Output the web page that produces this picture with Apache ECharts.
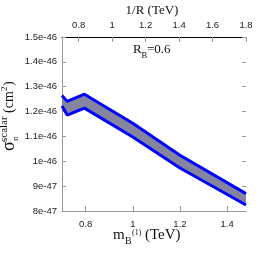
<!DOCTYPE html>
<html><head><meta charset="utf-8">
<script src="https://cdn.jsdelivr.net/npm/echarts@6/dist/echarts.min.js"></script>
<style>html,body{margin:0;padding:0;background:#fff}#c{width:262px;height:262px}</style>
</head><body><div id="c"></div>
<script>
// bottom axis: m_B(1) in TeV ; top axis: 1/R in TeV ; y: sigma in units of 1e-46 cm^2
const massTicks = [0.8, 1.0, 1.2, 1.4];
const invRTicks = [0.8, 1.0, 1.2, 1.4, 1.6, 1.8];
const sigmaTicks = [0.8, 0.9, 1.0, 1.1, 1.2, 1.3, 1.4, 1.5];
const sigmaTickLabels = ['8e-47', '9e-47', '1e-46', '1.1e-46', '1.2e-46', '1.3e-46', '1.4e-46', '1.5e-46'];
const massValues = [0.70, 0.722, 0.795, 1.0, 1.2, 1.48];
const sigmaUpper = [1.265, 1.241, 1.270, 1.153, 1.024, 0.870];
const sigmaLower = [1.222, 1.186, 1.214, 1.098, 0.973, 0.824];

const chart = echarts.init(document.getElementById('c'), null, {renderer: 'canvas'});
const sans = 'Liberation Sans, Arial, sans-serif';
const serif = 'Liberation Serif, Times New Roman, serif';
const fmtNum = v => String(Math.round(v * 10) / 10);
const upperData = massValues.map((m, i) => [m, sigmaUpper[i]]);
const lowerData = massValues.map((m, i) => [m, sigmaLower[i]]);

const T = (text, x, y, size, extra) => Object.assign({
  type: 'text', x: x, y: y, silent: true,
  style: Object.assign({text: text, font: size + 'px ' + serif, fill: '#111', align: 'left', verticalAlign: 'middle'}, extra || {})
});
const R = (text, x, y, size) => ({
  type: 'text', x: x, y: y, rotation: Math.PI / 2, silent: true,
  style: {text: text, font: size + 'px ' + serif, fill: '#111', align: 'left', verticalAlign: 'middle'}
});

chart.setOption({
  animation: false,
  grid: {left: 62, right: 16, top: 37, bottom: 51, containLabel: false},
  xAxis: [
    {type: 'value', position: 'bottom', min: 0.7, max: 1.48,
     axisLine: {show: true, onZero: false, lineStyle: {color: '#999', width: 1}},
     axisTick: {show: true, inside: true, length: 5, customValues: massTicks, lineStyle: {color: '#999'}},
     axisLabel: {customValues: massTicks, formatter: fmtNum, margin: 8, fontFamily: sans, fontSize: 9.5, color: '#222'},
     splitLine: {show: false}},
    {type: 'value', position: 'top', min: 0.7, max: 1.8,
     axisLine: {show: true, onZero: false, lineStyle: {color: '#000', width: 1}},
     axisTick: {show: true, inside: true, length: 5, customValues: invRTicks, lineStyle: {color: '#999'}},
     axisLabel: {customValues: invRTicks, formatter: fmtNum, margin: 7, fontFamily: sans, fontSize: 9.5, color: '#222'},
     splitLine: {show: false}}
  ],
  yAxis: [
    {type: 'value', position: 'left', min: 0.8, max: 1.5,
     axisLine: {show: true, onZero: false, lineStyle: {color: '#999', width: 1}},
     axisTick: {show: true, inside: true, length: 4, customValues: sigmaTicks, lineStyle: {color: '#999'}},
     axisLabel: {customValues: sigmaTicks, margin: 5, fontFamily: sans, fontSize: 9.5, color: '#222',
       formatter: v => sigmaTickLabels[Math.round((v - sigmaTicks[0]) / 0.1)]},
     splitLine: {show: false}},
    {type: 'value', position: 'right', min: 0.8, max: 1.5,
     axisLine: {show: false},
     axisTick: {show: true, inside: true, length: 4, customValues: sigmaTicks, lineStyle: {color: '#999'}},
     axisLabel: {show: false}, splitLine: {show: false}}
  ],
  series: [
    {type: 'custom', xAxisIndex: 0, yAxisIndex: 0, clip: true, z: 1,
     data: [upperData[0]],
     renderItem: (params, api) => {
       const pts = [];
       for (let i = 0; i < massValues.length; i++) pts.push(api.coord([massValues[i], sigmaUpper[i]]));
       for (let i = massValues.length - 1; i >= 0; i--) pts.push(api.coord([massValues[i], sigmaLower[i]]));
       return {type: 'polygon', shape: {points: pts}, style: {fill: '#85859f'}};
     }},
    {type: 'line', xAxisIndex: 0, yAxisIndex: 0, data: upperData, symbol: 'none', z: 3,
     lineStyle: {color: '#0000ff', width: 3}},
    {type: 'line', xAxisIndex: 0, yAxisIndex: 0, data: lowerData, symbol: 'none', z: 3,
     lineStyle: {color: '#0000ff', width: 3}}
  ],
  graphic: [
    T('1/R (TeV)', 152, 11, 13, {align: 'center'}),
    T('R', 133, 50, 13),
    T('B', 141.5, 56, 8.5),
    T('=0.6', 147, 50, 13),
    T('m', 113, 235, 15),
    T('B', 125, 241, 10),
    T('(1)', 132, 233, 8),
    T('(TeV)', 145, 235, 15),
    R('\u03c3', 9, 151, 18),
    R('n', 15.5, 141, 9),
    R('scalar', 4, 142, 11),
    R('(cm', 9.6, 113, 14),
    R('2', 5, 91, 9),
    R(')', 9.6, 86, 14)
  ]
});
</script></body></html>
